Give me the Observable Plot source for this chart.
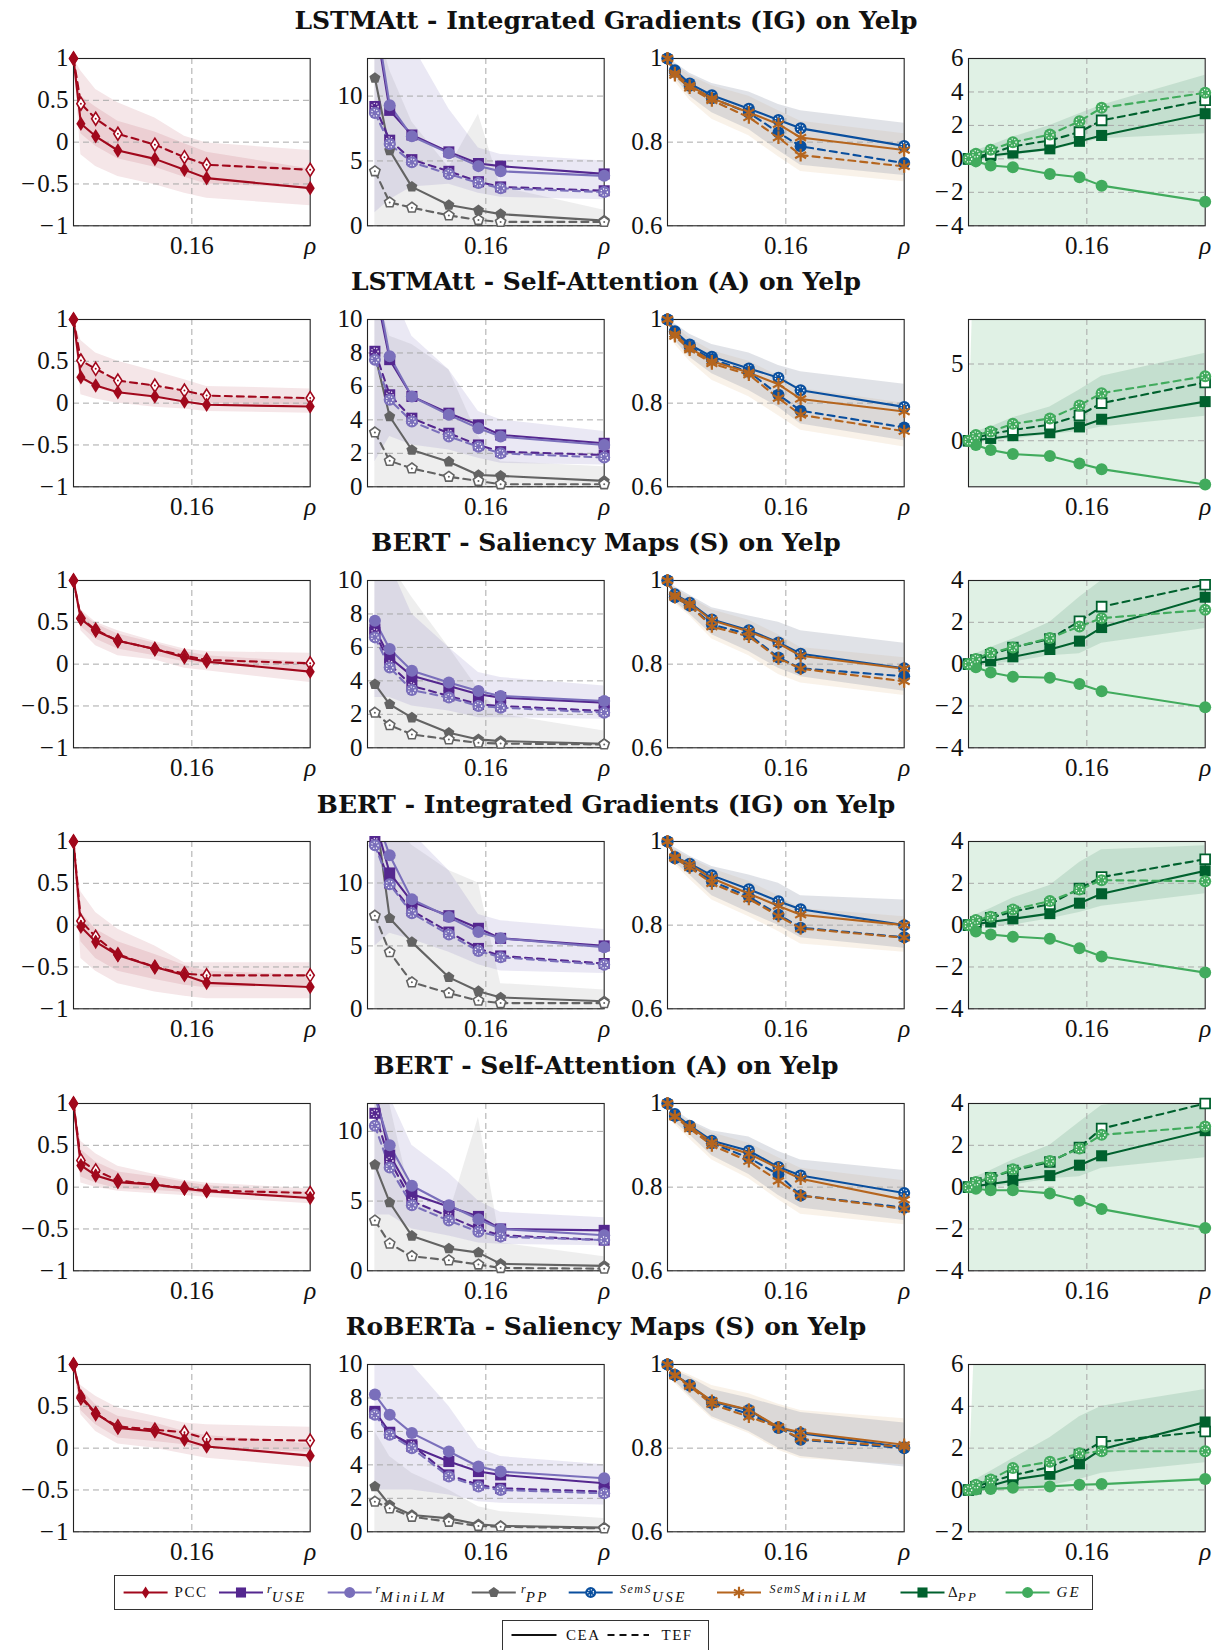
<!DOCTYPE html>
<html><head><meta charset="utf-8">
<script src="https://cdn.jsdelivr.net/npm/d3@7"></script>
<script src="https://cdn.jsdelivr.net/npm/@observablehq/plot@0.6"></script>
<style>
body{margin:0;background:#fff;}
#fig{position:relative;width:1219px;height:1650px;overflow:hidden;background:#fff;}
.title{position:absolute;left:0;width:1212px;text-align:center;font-family:"DejaVu Serif";font-weight:bold;font-size:25px;line-height:32px;color:#111;}
</style></head>
<body><div id="fig"></div>
<script>
// ---------- data ----------
const rho = [0, 0.01, 0.03, 0.06, 0.11, 0.15, 0.18, 0.32];
const xTicks = [0.16, 0.32];
const xTickLabels = ["0.16", "ρ"];
const titles = [
  "LSTMAtt - Integrated Gradients (IG) on Yelp",
  "LSTMAtt - Self-Attention (A) on Yelp",
  "BERT - Saliency Maps (S) on Yelp",
  "BERT - Integrated Gradients (IG) on Yelp",
  "BERT - Self-Attention (A) on Yelp",
  "RoBERTa - Saliency Maps (S) on Yelp"
];
const pccDomain = [-1, 1], pccTicks = [-1, -0.5, 0, 0.5, 1];
const rDomains = [[0, 12.9], [0, 10], [0, 10], [0, 13.3], [0, 12], [0, 10]];
const rTicks = [[0, 5, 10], [0, 2, 4, 6, 8, 10], [0, 2, 4, 6, 8, 10], [0, 5, 10], [0, 5, 10], [0, 2, 4, 6, 8, 10]];
const semDomain = [0.6, 1], semTicks = [0.6, 0.8, 1];
const dDomains = [[-4, 6], [-3, 7.9], [-4, 4], [-4, 4], [-4, 4], [-2, 6]];
const dTicks = [[-4, -2, 0, 2, 4, 6], [0, 5], [-4, -2, 0, 2, 4], [-4, -2, 0, 2, 4], [-4, -2, 0, 2, 4], [-2, 0, 2, 4, 6]];

// PCC
const pccCEA = [
  [1, 0.22, 0.07, -0.1, -0.2, -0.33, -0.43, -0.55],
  [1, 0.31, 0.21, 0.13, 0.08, 0.02, -0.02, -0.04],
  [1, 0.54, 0.4, 0.28, 0.18, 0.08, 0.03, -0.09],
  [1, -0.02, -0.2, -0.36, -0.5, -0.6, -0.69, -0.74],
  [1, 0.26, 0.14, 0.06, 0.03, -0.02, -0.05, -0.13],
  [1, 0.62, 0.42, 0.24, 0.2, 0.1, 0.02, -0.09]];
const pccTEF = [
  [1, 0.46, 0.28, 0.1, -0.03, -0.18, -0.27, -0.33],
  [1, 0.51, 0.41, 0.27, 0.21, 0.15, 0.09, 0.06],
  [1, 0.55, 0.41, 0.28, 0.18, 0.1, 0.05, 0.01],
  [1, 0.05, -0.14, -0.35, -0.5, -0.58, -0.6, -0.6],
  [1, 0.32, 0.2, 0.08, 0.03, -0.01, -0.04, -0.07],
  [1, 0.6, 0.41, 0.26, 0.22, 0.19, 0.11, 0.09]];
const pccLoCEA = [
  [1, -0.15, -0.29, -0.41, -0.51, -0.61, -0.67, -0.76],
  [1, 0.1, 0.05, 0, -0.05, -0.07, -0.1, -0.12],
  [1, 0.4, 0.22, 0.1, 0.05, -0.05, -0.08, -0.22],
  [1, -0.4, -0.55, -0.7, -0.8, -0.85, -0.88, -0.88],
  [1, 0.05, 0, -0.05, -0.08, -0.1, -0.12, -0.2],
  [1, 0.4, 0.2, 0.05, 0, -0.07, -0.12, -0.23]];
const pccHiCEA = [
  [1, 0.55, 0.42, 0.25, 0.12, -0.02, -0.12, -0.32],
  [1, 0.5, 0.38, 0.28, 0.2, 0.13, 0.08, 0.05],
  [1, 0.62, 0.48, 0.36, 0.25, 0.15, 0.1, 0.02],
  [1, 0.15, -0.05, -0.2, -0.35, -0.48, -0.55, -0.6],
  [1, 0.45, 0.3, 0.18, 0.12, 0.06, 0.02, -0.06],
  [1, 0.7, 0.52, 0.38, 0.3, 0.2, 0.15, 0.05]];
const pccLoTEF = [
  [1, 0.1, -0.05, -0.2, -0.3, -0.42, -0.5, -0.55],
  [1, 0.28, 0.2, 0.12, 0.08, 0.04, 0, -0.03],
  [1, 0.45, 0.3, 0.18, 0.1, 0.03, 0, -0.08],
  [1, -0.2, -0.4, -0.55, -0.65, -0.72, -0.75, -0.72],
  [1, 0.12, 0.05, -0.02, -0.04, -0.06, -0.08, -0.12],
  [1, 0.45, 0.28, 0.12, 0.08, 0.04, 0, -0.05]];
const pccHiTEF = [
  [1, 0.85, 0.63, 0.47, 0.29, 0.07, -0.01, -0.1],
  [1, 0.75, 0.6, 0.5, 0.38, 0.28, 0.2, 0.17],
  [1, 0.65, 0.5, 0.4, 0.27, 0.18, 0.15, 0.13],
  [1, 0.4, 0.15, -0.05, -0.25, -0.45, -0.45, -0.45],
  [1, 0.55, 0.4, 0.25, 0.15, 0.08, 0.05, -0.02],
  [1, 0.75, 0.62, 0.48, 0.38, 0.3, 0.28, 0.25]];

// r_USE, r_MiniLM, r_PP
const useCEA = [
  [null, 16, 8.9, 7.0, 5.7, 4.8, 4.6, 4.0],
  [null, 12, 7.6, 5.4, 4.4, 3.7, 3.1, 2.6],
  [null, 7.1, 5.4, 4.3, 3.7, 3.2, 3.0, 2.7],
  [null, 15, 10.8, 8.5, 7.4, 6.4, 5.6, 5.0],
  [null, 13, 8.3, 5.5, 4.6, 3.9, 3.0, 2.9],
  [null, 7.2, 5.95, 5.1, 4.2, 3.6, 3.4, 2.9]];
const useTEF = [
  [null, 9.2, 6.6, 5.1, 4.2, 3.4, 3.0, 2.7],
  [null, 8.1, 5.5, 4.1, 3.2, 2.5, 2.1, 1.9],
  [null, 6.9, 5.0, 3.7, 3.1, 2.6, 2.5, 2.2],
  [null, 13.3, 10.0, 7.8, 6.1, 4.8, 4.2, 3.6],
  [null, 11.3, 7.9, 5.0, 3.9, 3.0, 2.55, 2.2],
  [null, 7.1, 5.9, 5.2, 3.4, 2.8, 2.6, 2.4]];
const miniCEA = [
  [null, 16.5, 9.3, 6.9, 5.6, 4.6, 4.2, 3.85],
  [null, 12.5, 7.8, 5.4, 4.3, 3.5, 3.0, 2.5],
  [null, 7.6, 5.9, 4.6, 3.9, 3.4, 3.1, 2.8],
  [null, 15.5, 12.2, 8.7, 7.3, 6.1, 5.6, 4.9],
  [null, 12.5, 9.0, 6.1, 4.7, 3.7, 3.0, 2.55],
  [null, 8.2, 7.0, 5.9, 4.8, 3.9, 3.6, 3.2]];
const miniTEF = [
  [null, 8.7, 6.3, 4.9, 4.0, 3.3, 2.9, 2.6],
  [null, 7.6, 5.2, 3.9, 3.0, 2.4, 2.0, 1.75],
  [null, 6.6, 4.8, 3.45, 3.0, 2.5, 2.4, 2.1],
  [null, 13, 9.9, 7.6, 5.9, 4.6, 4.1, 3.5],
  [null, 10.4, 7.4, 4.7, 3.6, 2.8, 2.45, 2.2],
  [null, 7.0, 5.8, 5.0, 3.3, 2.7, 2.5, 2.3]];
const ppCEA = [
  [null, 11.4, 5.8, 3.0, 1.6, 1.2, 0.9, 0.4],
  [null, 7.9, 4.2, 2.2, 1.5, 0.7, 0.65, 0.35],
  [null, 3.8, 2.6, 1.8, 0.9, 0.5, 0.4, 0.24],
  [null, 16, 7.2, 5.3, 2.5, 1.4, 0.9, 0.6],
  [null, 7.6, 4.9, 2.5, 1.6, 1.3, 0.5, 0.35],
  [null, 2.7, 1.6, 1.0, 0.8, 0.45, 0.35, 0.25]];
const ppTEF = [
  [null, 4.2, 1.8, 1.4, 0.8, 0.45, 0.3, 0.3],
  [null, 3.25, 1.55, 1.1, 0.6, 0.35, 0.15, 0.15],
  [null, 2.1, 1.35, 0.8, 0.5, 0.3, 0.25, 0.2],
  [null, 7.4, 4.5, 2.1, 1.25, 0.65, 0.45, 0.45],
  [null, 3.6, 1.95, 1.05, 0.75, 0.45, 0.2, 0.15],
  [null, 1.8, 1.4, 0.9, 0.6, 0.35, 0.3, 0.2]];
const purpleLo = [
  [null, 1.0, 2.0, 3.0, 3.2, 2.5, 2.2, 2.0],
  [null, 1.5, 3, 2.5, 2.2, 1.7, 1.4, 1.3],
  [null, 3, 3, 2.5, 2.2, 1.8, 1.8, 1.7],
  [null, 5, 6, 5.5, 4.5, 3.5, 3, 2.8],
  [null, 4, 4, 3, 2.5, 2, 1.9, 1.8],
  [null, 2.5, 2.5, 2.5, 2.2, 1.8, 1.7, 1.6]];
const purpleHi = [
  [null, 20, 18, 14, 9, 6, 5.5, 5.0],
  [null, 14, 12, 9, 7, 4.5, 4, 3.3],
  [null, 13, 11, 8, 6, 4.5, 4.2, 3.7],
  [null, 20, 18, 14, 11, 7.5, 7, 6.3],
  [null, 14, 12.5, 9, 7, 5, 4.2, 3.8],
  [null, 14, 12, 10, 7.5, 5, 4.5, 4.0]];
const greyLo = [
  [null, 0, 0, 0, 0, 0, 0, 0], [null, 0, 0, 0, 0, 0, 0, 0], [null, 0, 0, 0, 0, 0, 0, 0],
  [null, 0, 0, 0, 0, 0, 0, 0], [null, 0, 0, 0, 0, 0, 0, 0], [null, 0, 0, 0, 0, 0, 0, 0]];
const greyHi = [
  [null, 16, 12, 8, 4.5, 8.6, 3, 1.2],
  [null, 12, 9, 8.5, 7, 3, 1.5, 1.2],
  [null, 12, 11, 9, 6, 3.5, 2, 1],
  [null, 20, 15, 13, 11, 10, 2, 1.5],
  [null, 13, 12, 5, 4, 11, 2, 1],
  [null, 6, 4.5, 3.5, 2.5, 1.5, 1.2, 0.8]];

// SemS
const semUseCEA = [
  [1, 0.972, 0.94, 0.912, 0.88, 0.853, 0.833, 0.791],
  [1, 0.972, 0.94, 0.911, 0.883, 0.861, 0.831, 0.791],
  [1, 0.967, 0.947, 0.907, 0.881, 0.852, 0.825, 0.79],
  [1, 0.963, 0.947, 0.919, 0.886, 0.857, 0.838, 0.8],
  [1, 0.975, 0.947, 0.911, 0.887, 0.848, 0.828, 0.786],
  [1, 0.975, 0.951, 0.911, 0.891, 0.848, 0.836, 0.802]];
const semUseTEF = [
  [1, 0.968, 0.935, 0.905, 0.87, 0.823, 0.79, 0.75],
  [1, 0.97, 0.935, 0.905, 0.875, 0.82, 0.782, 0.742],
  [1, 0.96, 0.94, 0.895, 0.871, 0.816, 0.79, 0.771],
  [1, 0.96, 0.94, 0.905, 0.868, 0.825, 0.794, 0.771],
  [1, 0.97, 0.945, 0.905, 0.87, 0.83, 0.78, 0.751],
  [1, 0.975, 0.95, 0.908, 0.882, 0.85, 0.82, 0.8]];
const semMiniCEA = [
  [1, 0.965, 0.935, 0.905, 0.871, 0.843, 0.811, 0.781],
  [1, 0.965, 0.932, 0.9, 0.873, 0.845, 0.81, 0.78],
  [1, 0.965, 0.945, 0.905, 0.878, 0.85, 0.82, 0.789],
  [1, 0.963, 0.945, 0.912, 0.875, 0.846, 0.825, 0.8],
  [1, 0.97, 0.945, 0.907, 0.88, 0.845, 0.82, 0.77],
  [1, 0.975, 0.95, 0.913, 0.892, 0.85, 0.838, 0.808]];
const semMiniTEF = [
  [1, 0.96, 0.93, 0.9, 0.859, 0.811, 0.769, 0.742],
  [1, 0.96, 0.928, 0.895, 0.868, 0.812, 0.772, 0.733],
  [1, 0.96, 0.94, 0.89, 0.866, 0.814, 0.789, 0.759],
  [1, 0.96, 0.938, 0.9, 0.863, 0.822, 0.792, 0.77],
  [1, 0.968, 0.94, 0.9, 0.862, 0.815, 0.78, 0.748],
  [1, 0.973, 0.948, 0.905, 0.875, 0.85, 0.822, 0.803]];
const semLoCEA = [
  [1, 0.955, 0.91, 0.87, 0.83, 0.78, 0.745, 0.72],
  [1, 0.95, 0.91, 0.87, 0.83, 0.79, 0.75, 0.71],
  [1, 0.95, 0.92, 0.87, 0.83, 0.79, 0.77, 0.735],
  [1, 0.95, 0.92, 0.87, 0.83, 0.8, 0.77, 0.745],
  [1, 0.955, 0.925, 0.875, 0.83, 0.78, 0.75, 0.72],
  [1, 0.96, 0.925, 0.875, 0.84, 0.8, 0.78, 0.755]];
const semHiCEA = [
  [1, 0.99, 0.965, 0.94, 0.92, 0.89, 0.875, 0.845],
  [1, 0.99, 0.965, 0.94, 0.92, 0.89, 0.875, 0.845],
  [1, 0.985, 0.965, 0.935, 0.915, 0.9, 0.88, 0.85],
  [1, 0.985, 0.965, 0.94, 0.92, 0.9, 0.87, 0.86],
  [1, 0.985, 0.96, 0.935, 0.92, 0.885, 0.865, 0.84],
  [1, 0.985, 0.97, 0.94, 0.92, 0.9, 0.885, 0.86]];
const semLoTEF = [
  [1, 0.945, 0.9, 0.855, 0.815, 0.765, 0.73, 0.705],
  [1, 0.94, 0.9, 0.855, 0.815, 0.77, 0.735, 0.695],
  [1, 0.945, 0.915, 0.86, 0.82, 0.775, 0.755, 0.725],
  [1, 0.945, 0.91, 0.86, 0.82, 0.785, 0.755, 0.735],
  [1, 0.95, 0.915, 0.865, 0.82, 0.77, 0.735, 0.71],
  [1, 0.955, 0.92, 0.87, 0.835, 0.795, 0.775, 0.76]];
const semHiTEF = [
  [1, 0.985, 0.96, 0.935, 0.91, 0.875, 0.85, 0.82],
  [1, 0.985, 0.955, 0.925, 0.9, 0.865, 0.835, 0.8],
  [1, 0.98, 0.96, 0.93, 0.905, 0.87, 0.84, 0.815],
  [1, 0.98, 0.96, 0.935, 0.905, 0.87, 0.84, 0.82],
  [1, 0.98, 0.955, 0.93, 0.905, 0.87, 0.845, 0.815],
  [1, 0.99, 0.975, 0.95, 0.93, 0.905, 0.89, 0.87]];

// Delta_PP and GE
const dppCEA = [
  [0, 0.05, 0.2, 0.35, 0.6, 1.05, 1.4, 2.7],
  [0, 0.05, 0.15, 0.33, 0.52, 0.9, 1.4, 2.55],
  [0, 0.05, 0.15, 0.35, 0.7, 1.1, 1.75, 3.2],
  [0, 0.05, 0.15, 0.3, 0.55, 1.05, 1.5, 2.6],
  [0, 0.05, 0.15, 0.3, 0.55, 1.05, 1.5, 2.7],
  [0, 0.05, 0.2, 0.5, 0.75, 1.25, 1.95, 3.25]];
const dppTEF = [
  [0, 0.15, 0.3, 0.75, 1.1, 1.6, 2.3, 3.5],
  [0, 0.2, 0.45, 0.7, 1.05, 1.65, 2.45, 3.8],
  [0, 0.2, 0.45, 0.8, 1.2, 2.05, 2.75, 3.8],
  [0, 0.15, 0.35, 0.65, 1.0, 1.75, 2.3, 3.15],
  [0, 0.2, 0.45, 0.8, 1.2, 1.9, 2.8, 4.0],
  [0, 0.15, 0.4, 0.7, 1.1, 1.7, 2.3, 2.8]];
const geCEA = [
  [0, -0.15, -0.4, -0.5, -0.9, -1.1, -1.6, -2.56],
  [0, -0.28, -0.6, -0.87, -1.0, -1.48, -1.85, -2.85],
  [0, -0.15, -0.4, -0.6, -0.65, -0.95, -1.3, -2.06],
  [0, -0.3, -0.45, -0.55, -0.65, -1.1, -1.5, -2.27],
  [0, -0.08, -0.15, -0.15, -0.3, -0.65, -1.05, -1.95],
  [0, 0.02, 0.05, 0.1, 0.17, 0.25, 0.28, 0.52]];
const geTEF = [
  [0, 0.3, 0.55, 1.0, 1.45, 2.25, 3.05, 3.95],
  [0, 0.37, 0.6, 1.1, 1.45, 2.3, 3.1, 4.2],
  [0, 0.25, 0.55, 0.8, 1.25, 1.8, 2.2, 2.6],
  [0, 0.25, 0.4, 0.75, 1.15, 1.7, 2.15, 2.1],
  [0, 0.25, 0.45, 0.85, 1.25, 1.85, 2.5, 2.9],
  [0, 0.25, 0.5, 1.05, 1.35, 1.75, 1.85, 1.85]];
const dppLo = [
  [0, -0.1, 0, 0.2, 0.5, 0.9, 1.2, 1.5],
  [0, -0.1, 0, 0.1, 0.4, 0.6, 0.9, 1.6],
  [0, -0.1, 0, 0.1, 0.4, 0.5, 1.0, 1.7],
  [0, -0.1, 0, 0, 0.3, 0.6, 0.9, 1.5],
  [0, -0.1, 0, 0.1, 0.4, 0.5, 0.9, 1.4],
  [0, -0.1, 0, 0, 0.2, 0.5, 0.8, 1.3]];
const dppHi = [
  [0, 0.5, 0.8, 1.3, 2.0, 2.7, 3.2, 5.0],
  [0, 0.6, 0.9, 1.5, 2.2, 3.3, 4.2, 5.7],
  [0, 0.5, 0.8, 1.2, 2.0, 3.2, 4.0, 4.6],
  [0, 0.5, 0.8, 1.3, 1.9, 3.0, 3.6, 3.8],
  [0, 0.5, 0.8, 1.3, 2.0, 3.1, 3.9, 4.6],
  [0, 0.5, 0.9, 1.5, 2.5, 3.5, 4.0, 4.8]];
const geBandLo = [
  [0, -60, -60, -60, -60, -60, -60, -60],
  [0, -16, -16, -16, -16, -16, -16, -16],
  [0, -60, -60, -60, -60, -60, -60, -60],
  [0, -60, -60, -60, -60, -60, -60, -60],
  [0, -60, -60, -60, -60, -60, -60, -60],
  [0, -20, -20, -20, -20, -20, -20, -20]];
const geBandHi = [
  [0, 60, 60, 60, 60, 60, 60, 60],
  [0, 16, 16, 16, 16, 16, 16, 16],
  [0, 60, 60, 60, 60, 60, 60, 60],
  [0, 60, 60, 60, 60, 60, 60, 60],
  [0, 60, 60, 60, 60, 60, 60, 60],
  [0, 8.5, 20, 20, 20, 20, 20, 20]];

// ---------- style ----------
const C = {pcc: "#a1081c", use: "#54278f", mini: "#7a6fbb", pp: "#636363",
  semU: "#0a4f9e", semM: "#b5651e", dpp: "#00612e", ge: "#41ab5d"};
const W = 236.7, H = 167.3;
const colLeft = [73.3, 366.7, 666.6, 967.7];
const rowTop = [57.7, 318.9, 580.1, 841.3, 1102.5, 1363.7];
const mL = 80, mR = 22, mT = 14, mB = 44;
const FONT = "Liberation Serif", FS = 25;
const yFmt = d => d < 0 ? "\u2212\u200A" + d3.format("~g")(-d) : d3.format("~g")(d);

const tallDiamond = {draw(c, s) {const r = Math.sqrt(s / Math.PI); c.moveTo(0, -1.3 * r); c.lineTo(0.82 * r, 0); c.lineTo(0, 1.3 * r); c.lineTo(-0.82 * r, 0); c.closePath();}};
const sq = {draw(c, s) {const r = Math.sqrt(s / Math.PI) * 0.92; c.moveTo(-r, -r); c.lineTo(r, -r); c.lineTo(r, r); c.lineTo(-r, r); c.closePath();}};
const pent = {draw(c, s) {const r = Math.sqrt(s / Math.PI) * 1.12; for (let i = 0; i < 5; i++) {const a = -Math.PI / 2 + i * 2 * Math.PI / 5; const px = r * Math.cos(a), py = r * Math.sin(a); if (i) c.lineTo(px, py); else c.moveTo(px, py);} c.closePath();}};

const fig = document.getElementById("fig");
const pts = ys => rho.map((x, i) => ({x, y: ys[i]})).filter(d => d.y != null);
const bandRows = (lo, hi) => rho.map((x, i) => ({x, lo: lo[i], hi: hi[i]})).filter(d => d.lo != null);
const area = (lo, hi, fill, op) => Plot.areaY(bandRows(lo, hi), {x: "x", y1: "lo", y2: "hi", fill, fillOpacity: op, clip: true});
const line = (ys, color, dashed) => Plot.line(pts(ys), dashed
  ? {x: "x", y: "y", stroke: color, strokeWidth: 2.1, strokeDasharray: "7,5", clip: true}
  : {x: "x", y: "y", stroke: color, strokeWidth: 2.1, clip: true});

function dots(ys, dom, color, kind) {
  const eps = (dom[1] - dom[0]) * 0.025;
  const d = pts(ys).filter(p => p.y >= dom[0] - eps && p.y <= dom[1] + eps);
  const ring = Plot.dot(d, {x: "x", y: "y", r: 3.2, fill: "none", stroke: "white", strokeWidth: 1.3, strokeDasharray: "1.1,1.6"});
  const pin = Plot.dot(d, {x: "x", y: "y", r: 1, fill: color});
  switch (kind) {
    case "diamond": return [Plot.dot(d, {x: "x", y: "y", symbol: tallDiamond, r: 5.6, fill: color})];
    case "diamondOpen": return [Plot.dot(d, {x: "x", y: "y", symbol: tallDiamond, r: 5, fill: "white", stroke: color, strokeWidth: 1.6}), pin];
    case "square": return [Plot.dot(d, {x: "x", y: "y", symbol: sq, r: 6, fill: color})];
    case "squareDot": return [Plot.dot(d, {x: "x", y: "y", symbol: sq, r: 6, fill: color}), ring];
    case "squareOpen": return [Plot.dot(d, {x: "x", y: "y", symbol: sq, r: 5.3, fill: "white", stroke: color, strokeWidth: 1.8})];
    case "circle": return [Plot.dot(d, {x: "x", y: "y", r: 6, fill: color})];
    case "circleDot": return [Plot.dot(d, {x: "x", y: "y", r: 6, fill: color}), ring];
    case "pent": return [Plot.dot(d, {x: "x", y: "y", symbol: pent, r: 5.2, fill: color})];
    case "pentOpen": return [Plot.dot(d, {x: "x", y: "y", symbol: pent, r: 4.8, fill: "white", stroke: color, strokeWidth: 1.6}), pin];
    case "ast": return [Plot.dot(d, {x: "x", y: "y", symbol: "asterisk", r: 6, fill: "none", stroke: color, strokeWidth: 2.2})];
  }
}

function panel(row, col, dom, ticks, bands, lines, dotMarks) {
  const p = Plot.plot({
    width: W + mL + mR, height: H + mT + mB,
    marginLeft: mL, marginRight: mR, marginTop: mT, marginBottom: mB,
    style: {background: "transparent", overflow: "visible", color: "#111"},
    x: {domain: [0, 0.32], label: null},
    y: {domain: dom, label: null},
    marks: [
      ...bands,
      Plot.gridY(ticks, {stroke: "#a9a9a9", strokeOpacity: 1, strokeWidth: 1, strokeDasharray: "6,4"}),
      Plot.gridX([xTicks[0]], {stroke: "#a9a9a9", strokeOpacity: 1, strokeWidth: 1, strokeDasharray: "6,4"}),
      ...lines,
      Plot.frame({stroke: "#222", strokeWidth: 1.1}),
      Plot.axisY(ticks, {tickSize: 0, tickPadding: 5, tickFormat: yFmt, label: null}),
      Plot.axisX([xTicks[0]], {tickSize: 0, tickPadding: 10, tickFormat: () => xTickLabels[0], label: null}),
      Plot.axisX([xTicks[1]], {tickSize: 0, tickPadding: 10, tickFormat: () => xTickLabels[1], label: null}),
      ...dotMarks.flat()
    ]
  });
  p.setAttribute("font-family", FONT);
  p.setAttribute("font-size", FS);
  p.querySelectorAll("text").forEach(t => {
    t.setAttribute("font-family", FONT);
    t.setAttribute("font-size", FS);
    t.style.fontFamily = FONT;
    t.style.fontSize = FS + "px";
    t.style.fontVariant = "normal";
    if (t.textContent === xTickLabels[1]) t.style.fontStyle = "italic";
  });
  p.style.position = "absolute";
  p.style.left = (colLeft[col] - mL) + "px";
  p.style.top = (rowTop[row] - mT) + "px";
  p.style.maxWidth = "none";
  fig.appendChild(p);
}

for (let k = 0; k < 6; k++) {
  const t = document.createElement("div");
  t.className = "title";
  t.textContent = titles[k];
  t.style.top = (rowTop[k] - 35.7 - 17) + "px";
  fig.appendChild(t);

  panel(k, 0, pccDomain, pccTicks,
    [area(pccLoCEA[k], pccHiCEA[k], C.pcc, 0.1), area(pccLoTEF[k], pccHiTEF[k], C.pcc, 0.1)],
    [line(pccCEA[k], C.pcc, false), line(pccTEF[k], C.pcc, true)],
    [dots(pccTEF[k], pccDomain, C.pcc, "diamondOpen"), dots(pccCEA[k], pccDomain, C.pcc, "diamond")]);

  const rd = rDomains[k];
  panel(k, 1, rd, rTicks[k],
    [area(greyLo[k], greyHi[k], "#8f8f8f", 0.15), area(purpleLo[k], purpleHi[k], C.mini, 0.16)],
    [line(ppCEA[k], C.pp, false), line(ppTEF[k], C.pp, true),
     line(useCEA[k], C.use, false), line(useTEF[k], C.use, true),
     line(miniCEA[k], C.mini, false), line(miniTEF[k], C.mini, true)],
    [dots(ppCEA[k], rd, C.pp, "pent"), dots(ppTEF[k], rd, C.pp, "pentOpen"),
     dots(useCEA[k], rd, C.use, "square"), dots(useTEF[k], rd, C.use, "squareDot"),
     dots(miniCEA[k], rd, C.mini, "circle"), dots(miniTEF[k], rd, C.mini, "circleDot")]);

  panel(k, 2, semDomain, semTicks,
    [area(semLoTEF[k], semHiTEF[k], "#d4a064", 0.14), area(semLoCEA[k], semHiCEA[k], "#8d95a6", 0.27)],
    [line(semUseCEA[k], C.semU, false), line(semUseTEF[k], C.semU, true),
     line(semMiniCEA[k], C.semM, false), line(semMiniTEF[k], C.semM, true)],
    [dots(semUseCEA[k], semDomain, C.semU, "circleDot"), dots(semUseTEF[k], semDomain, C.semU, "circle"),
     dots(semMiniCEA[k], semDomain, C.semM, "ast"), dots(semMiniTEF[k], semDomain, C.semM, "ast")]);

  const dd = dDomains[k];
  panel(k, 3, dd, dTicks[k],
    [area(geBandLo[k], geBandHi[k], C.ge, 0.16), area(dppLo[k], dppHi[k], C.dpp, 0.12)],
    [line(dppCEA[k], C.dpp, false), line(dppTEF[k], C.dpp, true),
     line(geCEA[k], C.ge, false), line(geTEF[k], C.ge, true)],
    [dots(dppCEA[k], dd, C.dpp, "square"), dots(dppTEF[k], dd, C.dpp, "squareOpen"),
     dots(geCEA[k], dd, C.ge, "circle"), dots(geTEF[k], dd, C.ge, "circleDot")]);
}

// ---------- legends ----------
const legendItems = [
  {color: C.pcc, sym: tallDiamond, size: Math.PI * 22, x0: 9.6, tx: 60.6, label: [["PCC", "normal", 15, 0, 1.5]]},
  {color: C.use, sym: sq, size: Math.PI * 30, x0: 105, tx: 153, label: [["r", "italic", 12, -4, 0], ["USE", "italic", 15, 5, 2.5]]},
  {color: C.mini, sym: d3.symbolCircle, size: Math.PI * 30, x0: 213.7, tx: 261.5, label: [["r", "italic", 12, -4, 0], ["MiniLM", "italic", 15, 5, 3]]},
  {color: C.pp, sym: pent, size: Math.PI * 24, x0: 357.8, tx: 407, label: [["r", "italic", 12, -4, 0], ["PP", "italic", 15, 5, 2.5]]},
  {color: C.semU, sym: d3.symbolCircle, size: Math.PI * 30, x0: 454.7, tx: 506, dotted: true, label: [["SemS", "italic", 12, -4, 1.5], ["USE", "italic", 15, 5, 2.5]]},
  {color: C.semM, sym: d3.symbolAsterisk, size: Math.PI * 30, x0: 603, tx: 655.6, stroke: true, label: [["SemS", "italic", 12, -4, 1.5], ["MiniLM", "italic", 15, 5, 3]]},
  {color: C.dpp, sym: sq, size: Math.PI * 30, x0: 786.5, tx: 834, label: [["Δ", "normal", 15, 0, 0], ["PP", "italic", 13, 4, 2.5]]},
  {color: C.ge, sym: d3.symbolCircle, size: Math.PI * 30, x0: 891.6, tx: 942.6, label: [["GE", "italic", 15, 0, 2]]}
];
const leg = d3.create("svg").attr("width", 980).attr("height", 36)
  .style("position", "absolute").style("left", "113.5px").style("top", "1574.5px").style("overflow", "visible");
leg.append("rect").attr("x", 0.5).attr("y", 0.5).attr("width", 978).attr("height", 34).attr("fill", "white").attr("stroke", "#333").attr("stroke-width", 1);
for (const it of legendItems) {
  const cy = 17.5, cx = it.x0 + 22;
  leg.append("line").attr("x1", it.x0).attr("x2", it.x0 + 44).attr("y1", cy).attr("y2", cy).attr("stroke", it.color).attr("stroke-width", 2.1);
  const g = leg.append("path").attr("transform", `translate(${cx},${cy})`).attr("d", d3.symbol(it.sym, it.size)());
  if (it.stroke) g.attr("fill", "none").attr("stroke", it.color).attr("stroke-width", 2.2); else g.attr("fill", it.color);
  if (it.dotted) leg.append("circle").attr("cx", cx).attr("cy", cy).attr("r", 2.8).attr("fill", "none").attr("stroke", "white").attr("stroke-width", 1.2).attr("stroke-dasharray", "1.1,1.5");
  const tx = leg.append("text").attr("x", it.tx).attr("y", 22).attr("font-family", FONT).attr("fill", "#111");
  let prev = 0;
  for (const [s, st, fs, dy, ls] of it.label) {
    tx.append("tspan").attr("font-style", st).attr("font-size", fs).attr("dy", dy - prev).attr("letter-spacing", ls).text(s);
    prev = dy;
  }
}
fig.appendChild(leg.node());

const leg2 = d3.create("svg").attr("width", 210).attr("height", 31)
  .style("position", "absolute").style("left", "501.5px").style("top", "1619.5px");
leg2.append("rect").attr("x", 0.5).attr("y", 0.5).attr("width", 206).attr("height", 30).attr("fill", "white").attr("stroke", "#333");
leg2.append("line").attr("x1", 9.5).attr("x2", 54.5).attr("y1", 15).attr("y2", 15).attr("stroke", "#111").attr("stroke-width", 2.2);
leg2.append("text").attr("x", 64).attr("y", 20).attr("font-family", FONT).attr("font-size", 15).attr("letter-spacing", 1.5).attr("fill", "#111").text("CEA");
leg2.append("line").attr("x1", 105.5).attr("x2", 147).attr("y1", 15).attr("y2", 15).attr("stroke", "#111").attr("stroke-width", 2.2).attr("stroke-dasharray", "7,5");
leg2.append("text").attr("x", 159.5).attr("y", 20).attr("font-family", FONT).attr("font-size", 15).attr("letter-spacing", 1.5).attr("fill", "#111").text("TEF");
fig.appendChild(leg2.node());
</script>
</body></html>
